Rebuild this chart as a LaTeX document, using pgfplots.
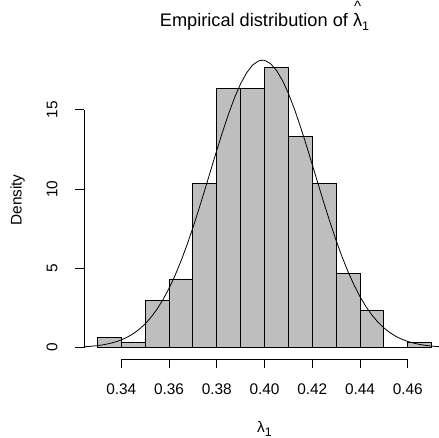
\documentclass[border=0pt]{standalone}
\usepackage{fontspec}
\setmainfont{Liberation Sans}
\usepackage{pgfplots}
\pgfplotsset{compat=1.18}
\definecolor{rgrey}{HTML}{BEBEBE}
\newcommand{\basefont}{\fontsize{15.4bp}{18bp}\selectfont}
\newcommand{\hatlambda}{\ooalign{λ\cr\hidewidth\raisebox{14.5bp}{\fontsize{15bp}{15bp}\selectfont\textasciicircum}\hidewidth\cr}}
\begin{document}
\begin{tikzpicture}
\begin{axis}[
  at={(0,0)}, anchor=south west,
  scale only axis, width=361bp, height=302.5bp,
  xmin=0.3244, xmax=0.4756, ymin=-0.707, ymax=18.37,
  clip=false,
  axis x line*=bottom, axis y line*=left,
  axis line style={draw=none},
  xtick={0.34,0.36,0.38,0.40,0.42,0.44,0.46},
  xticklabels={0.34,0.36,0.38,0.40,0.42,0.44,0.46},
  ytick={0,5,10,15},
  yticklabels={0,5,10,15},
  tick align=outside,
  major tick length=9bp,
  tick style={black, line width=0.8bp},
  xticklabel style={font=\basefont, anchor=base, yshift=-26.4bp},
  yticklabel style={font=\basefont, rotate=90, anchor=base},
  yticklabel shift={17.5bp},
  title={Empirical distribution of \hatlambda\raisebox{-0.25em}{\fontsize{12.5bp}{14bp}\selectfont 1}},
  title style={font=\fontsize{18.2bp}{22bp}\selectfont, at={(axis description cs:0.5,1)}, anchor=base, yshift=24.4bp},
  xlabel={λ\raisebox{-0.25em}{\fontsize{12.4bp}{14bp}\selectfont 1}},
  xlabel style={font=\basefont, at={(axis description cs:0.5,0)}, anchor=base, yshift=-73.5bp},
  ylabel={Density},
  ylabel style={font=\basefont, at={(axis description cs:-0.17258,0.5253)}, anchor=base},
]
\addplot[ybar interval, fill=rgrey, draw=black, line width=0.8bp] coordinates {
(0.33,0.6667) (0.34,0.3333) (0.35,3.0) (0.36,4.3333) (0.37,10.3333)
(0.38,16.3333) (0.39,16.3333) (0.40,17.6667) (0.41,13.3333) (0.42,10.3333)
(0.43,4.6667) (0.44,2.3333) (0.45,0) (0.46,0.3333) (0.47,0.3333)
};
\addplot[black, line width=0.8bp, mark=none] coordinates {
(0.3244,0.0569) (0.3275,0.0909) (0.330,0.1307) (0.3325,0.1855) (0.335,0.260)
(0.3375,0.360) (0.340,0.4914) (0.3425,0.6626) (0.345,0.8817) (0.3475,1.1588)
(0.350,1.503) (0.3525,1.924) (0.355,2.432) (0.3575,3.034) (0.360,3.737)
(0.3625,4.544) (0.365,5.455) (0.3675,6.465) (0.370,7.560) (0.3725,8.730)
(0.375,9.952) (0.3775,11.199) (0.380,12.440) (0.3825,13.641) (0.385,14.767)
(0.3875,15.780) (0.390,16.647) (0.3925,17.336) (0.395,17.822) (0.3975,18.086)
(0.3991,18.134) (0.400,18.119) (0.4025,17.919) (0.405,17.494) (0.4075,16.859)
(0.410,16.040) (0.4125,15.064) (0.415,13.965) (0.4175,12.783) (0.420,11.548)
(0.4225,10.300) (0.425,9.069) (0.4275,7.883) (0.430,6.762) (0.4325,5.727)
(0.435,4.789) (0.4375,3.953) (0.440,3.221) (0.4425,2.591) (0.445,2.056)
(0.4475,1.612) (0.450,1.248) (0.4525,0.953) (0.455,0.7187) (0.4575,0.5351)
(0.460,0.3932) (0.4625,0.2853) (0.465,0.2042) (0.4675,0.1444) (0.470,0.1008)
(0.4729,0.0653) (0.4756,0.0440)
};
\draw[black, line width=0.8bp] (axis cs:0.34,-0.707) -- (axis cs:0.46,-0.707);
\draw[black, line width=0.8bp] (axis cs:0.3244,0) -- (axis cs:0.3244,15);
\end{axis}
\pgfresetboundingbox
\useasboundingbox (-84bp,-79.1bp) rectangle (355bp,358.9bp);
\end{tikzpicture}
\end{document}
